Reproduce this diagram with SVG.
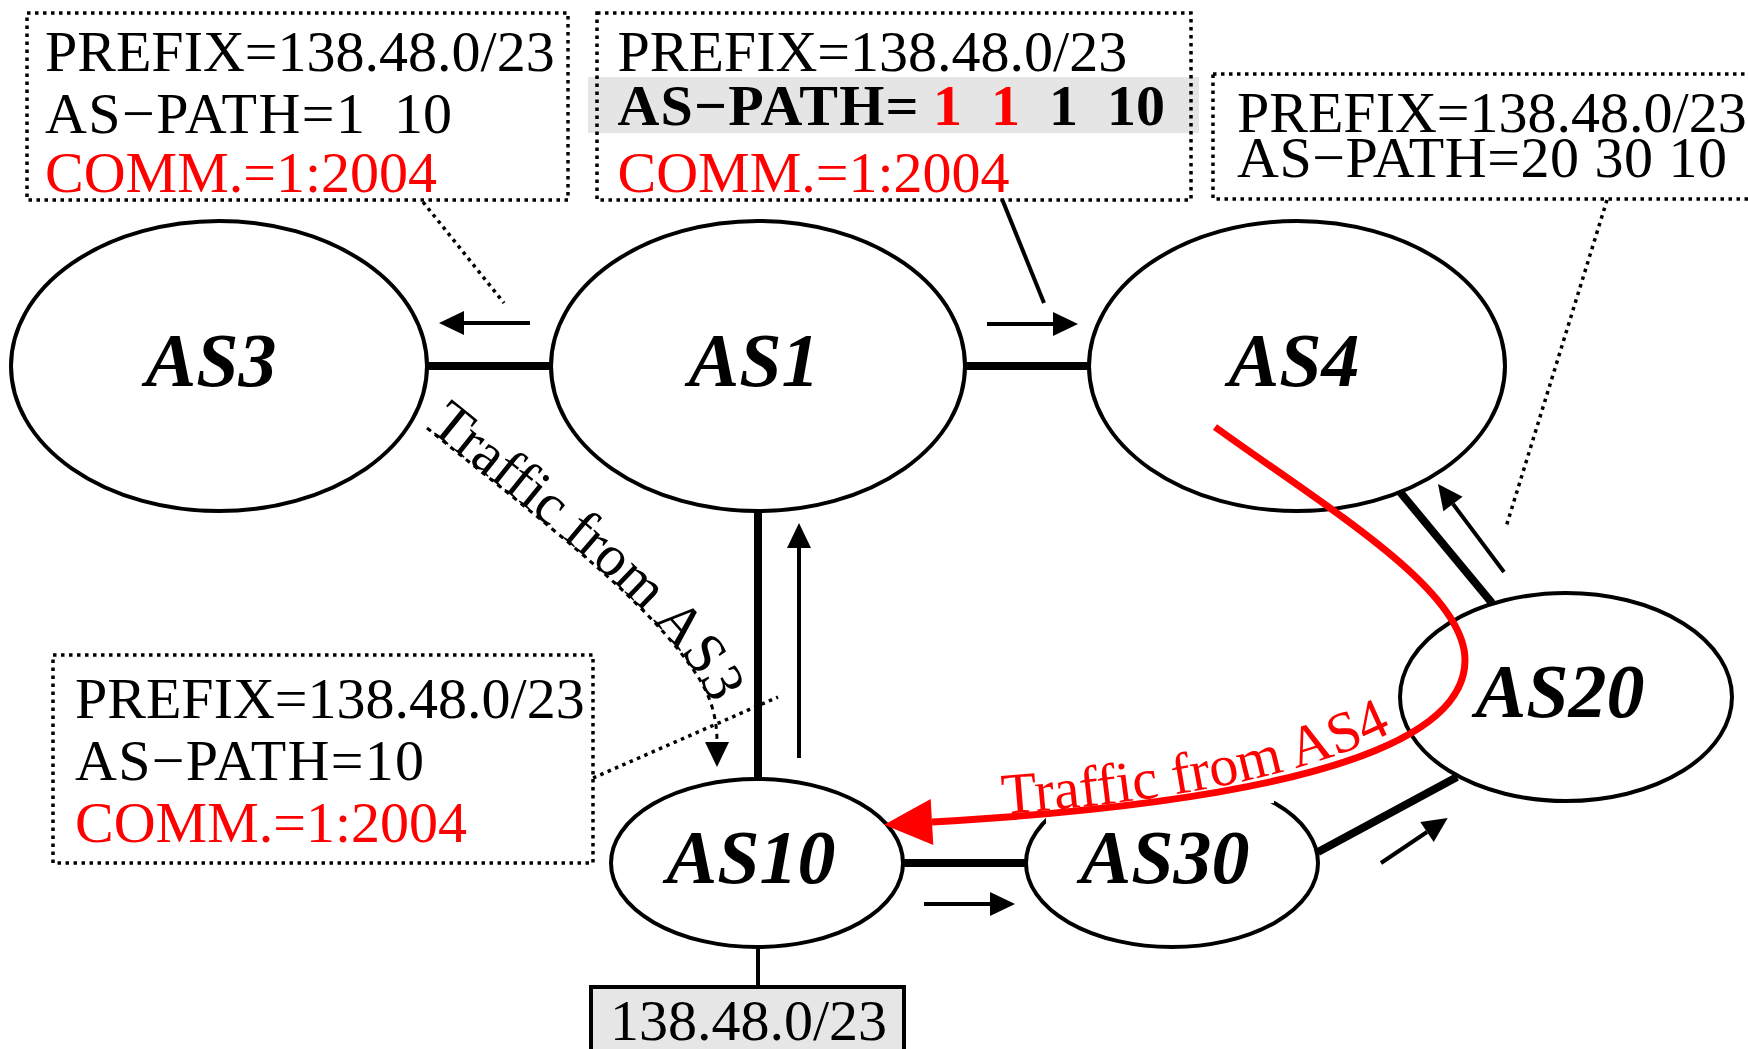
<svg xmlns="http://www.w3.org/2000/svg" width="1748" height="1049" viewBox="0 0 1748 1049">
  <style>
    .node ellipse { fill: #fff; stroke: #000; stroke-width: 4; }
    .lbl { font-family: "Liberation Serif", "Times New Roman", serif; font-weight: bold; font-style: italic; font-size: 76px; text-anchor: middle; fill: #000; }
    .ann { font-family: "Liberation Serif", "Times New Roman", serif; font-size: 58px; fill: #000; }
    .bold { font-weight: bold; }
    .red { fill: #f00; }
    .dot { fill: none; stroke: #000; stroke-width: 3.5; stroke-dasharray: 3.5 4.5; }
    .link { stroke: #000; stroke-width: 8; fill: none; }
    .thin { stroke: #000; stroke-width: 4; fill: none; }
    .arr { stroke: #000; stroke-width: 4; fill: none; marker-end: url(#ah); }
  </style>
  <defs>
    <marker id="ah" markerUnits="userSpaceOnUse" viewBox="0 -13 27 26" markerWidth="27" markerHeight="26" refX="0" refY="0" orient="auto" overflow="visible">
      <path d="M0,-12 L25,0 L0,12 z" fill="#000"/>
    </marker>
    <marker id="ahRed" markerUnits="userSpaceOnUse" viewBox="0 -24 50 48" markerWidth="50" markerHeight="48" refX="0" refY="0" orient="auto" overflow="visible">
      <path d="M0,-23 L48,0 L0,23 z" fill="#f00"/>
    </marker>
    <path id="p3" d="M427,428 C540,520 650,600 700,680 C712,700 717,720 717,742"/>
    <path id="p4" d="M1003,814 C1150,803 1300,780 1400,728"/>
  </defs>

  <rect width="1748" height="1049" fill="#fff"/>

  <!-- AS nodes -->
  <g id="as3" class="node">
    <ellipse cx="219" cy="366" rx="208" ry="145"/>
    <text class="lbl" x="211" y="386">AS3</text>
  </g>
  <g id="as1" class="node">
    <ellipse cx="758" cy="366" rx="207" ry="145"/>
    <text class="lbl" x="754" y="386">AS1</text>
  </g>
  <g id="as4" class="node">
    <ellipse cx="1297" cy="366" rx="208" ry="145"/>
    <text class="lbl" x="1294" y="386">AS4</text>
  </g>
  <g id="as20" class="node">
    <ellipse cx="1566" cy="697" rx="166" ry="104"/>
    <text class="lbl" x="1560" y="717">AS20</text>
  </g>
  <g id="as10" class="node">
    <ellipse cx="757" cy="863" rx="146" ry="84"/>
    <text class="lbl" x="751" y="883">AS10</text>
  </g>
  <g id="as30" class="node">
    <ellipse cx="1172" cy="863" rx="146" ry="84"/>
    <text class="lbl" x="1165" y="883">AS30</text>
  </g>

  <!-- originated prefix -->
  <g id="prefix">
    <rect x="591" y="987" width="313" height="70" fill="#e6e6e6" stroke="#000" stroke-width="4"/>
    <text class="ann" x="610" y="1040" font-size="57">138.48.0/23</text>
  </g>

  <!-- route announcement boxes -->
  <g id="ann-as3">
    <rect class="dot" x="27" y="13" width="541" height="187"/>
    <text class="ann" x="45" y="71">PREFIX=138.48.0/23</text>
    <text class="ann" x="45" y="133" textLength="320" lengthAdjust="spacing">AS−PATH=1</text>
    <text class="ann" x="394" y="133">10</text>
    <text class="ann red" x="45" y="192">COMM.=1:2004</text>
  </g>
  <g id="ann-as4">
    <rect x="588" y="77" width="611" height="56" fill="#e5e5e5"/>
    <rect class="dot" x="597" y="13" width="594" height="187"/>
    <text class="ann" x="617.5" y="71">PREFIX=138.48.0/23</text>
    <text class="ann bold" x="617.5" y="125" textLength="301" lengthAdjust="spacing">AS−PATH=</text>
    <text class="ann bold red" x="933" y="125">1</text>
    <text class="ann bold red" x="991" y="125">1</text>
    <text class="ann bold" x="1049" y="125">1</text>
    <text class="ann bold" x="1107" y="125">10</text>
    <text class="ann red" x="617.5" y="192">COMM.=1:2004</text>
  </g>
  <g id="ann-as20">
    <rect class="dot" x="1213" y="74" width="545" height="125"/>
    <text class="ann" x="1237" y="132" font-size="57.5">PREFIX=138.48.0/23</text>
    <text class="ann" x="1237" y="177" font-size="57.5" textLength="490" lengthAdjust="spacing">AS−PATH=20 30 10</text>
  </g>
  <g id="ann-as10">
    <rect class="dot" x="53" y="655" width="540" height="208"/>
    <text class="ann" x="75" y="718">PREFIX=138.48.0/23</text>
    <text class="ann" x="75" y="780" textLength="349" lengthAdjust="spacing">AS−PATH=10</text>
    <text class="ann red" x="75" y="842">COMM.=1:2004</text>
  </g>

  <!-- connectors -->
  <g id="connectors">
    <!-- peering links -->
    <line class="link" x1="427" y1="366" x2="551" y2="366"/>
    <line class="link" x1="965" y1="366" x2="1089" y2="366"/>
    <line class="link" x1="758" y1="511" x2="758" y2="779"/>
    <line class="link" x1="903" y1="863" x2="1026" y2="863"/>
    <line class="link" x1="1400" y1="492" x2="1492" y2="603"/>
    <line class="link" x1="1318" y1="852" x2="1457" y2="777"/>
    <line class="thin" x1="758" y1="947" x2="758" y2="987" stroke-width="3"/>

    <!-- announcement directions -->
    <line class="arr" x1="530" y1="323" x2="464" y2="323"/>
    <line class="arr" x1="987" y1="324" x2="1053" y2="324"/>
    <line class="arr" x1="799" y1="758" x2="799" y2="548"/>
    <line class="arr" x1="924" y1="904" x2="990" y2="904"/>
    <line class="arr" x1="1381" y1="863" x2="1427" y2="832"/>
    <line class="arr" x1="1504" y1="572" x2="1453" y2="504"/>

    <!-- callout leaders -->
    <line class="dot" x1="423" y1="202" x2="504" y2="303"/>
    <line class="thin" x1="1002" y1="199" x2="1044" y2="303"/>
    <line class="dot" x1="1607" y1="200" x2="1506" y2="527"/>
    <line class="dot" x1="593" y1="778" x2="778" y2="697"/>

    <!-- traffic from AS3 -->
    <use href="#p3" fill="none" stroke="#000" stroke-width="3" stroke-dasharray="5 5" marker-end="url(#ah)"/>
    <text class="ann" font-size="56"><textPath href="#p3">Traffic from AS3</textPath></text>

    <!-- traffic from AS4 -->
    <polygon points="1046,823 1274,803 1274,768 1046,768" fill="#fff"/>
    <path d="M1215,427 C1330,510 1465,590 1465,660 C1465,760 1230,805 932,822" fill="none" stroke="#f00" stroke-width="7" marker-end="url(#ahRed)"/>
    <text class="ann red" font-size="56"><textPath href="#p4">Traffic from AS4</textPath></text>
  </g>
</svg>
